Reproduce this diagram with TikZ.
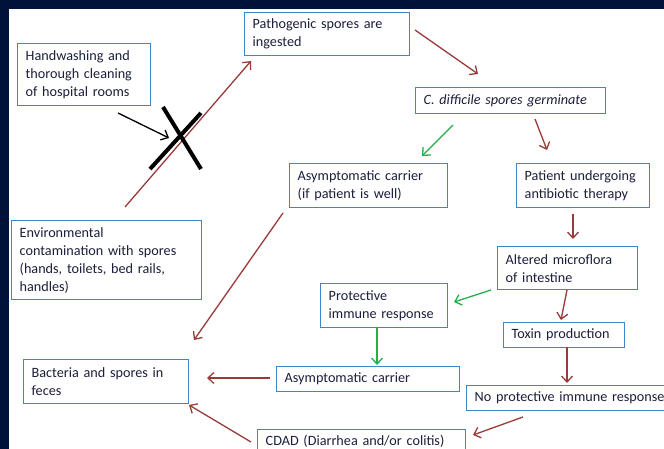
\documentclass[tikz,border=0pt]{standalone}
\usepackage{fontspec}
\setmainfont{Carlito}
\usetikzlibrary{arrows.meta}
\definecolor{navy}{HTML}{00123A}
\definecolor{boxblue}{HTML}{3C87CA}
\definecolor{txt}{HTML}{1C1F3A}
\definecolor{brn}{HTML}{9A3B3B}
\definecolor{grn}{HTML}{22B04B}
\tikzset{
  box/.style={draw=boxblue, line width=1.4pt, fill=white, anchor=north west,
    inner xsep=8pt, inner ysep=0pt, align=left, text=txt,
    font=\fontsize{14.2}{18}\selectfont},
  arr/.style={draw=brn, line width=1.3pt, -{Straight Barb[length=6pt,width=11pt]}},
  garr/.style={arr, draw=grn},
  barr/.style={arr, draw=black},
  cross/.style={draw=black, line width=4pt}
}
\newcommand{\bx}[6]{%
  \pgfmathsetmacro{\bw}{#4-#2}\pgfmathsetmacro{\bh}{#5-#3}\pgfmathsetmacro{\tw}{#4-#2-16}%
  \node[box, minimum width=\bw pt, minimum height=\bh pt, text width=\tw pt] (#1) at (#2,#3) {#6};}
\begin{document}
\begin{tikzpicture}[x=1pt,y=-1pt]
\useasboundingbox (0,0) rectangle (664,449);
\fill[navy] (0,0) rectangle (664,449);
\fill[white] (9,9) rectangle (680,460);
\bx{hand}{17}{43}{150}{105}{Handwashing and\\thorough cleaning\\of hospital rooms}
\bx{path}{244}{12}{409}{55}{Pathogenic spores are\\ingested}
\bx{cdif}{415}{87}{605}{113}{\textit{C. difficile spores germinate}}
\bx{asw}{289}{163}{447}{207}{Asymptomatic carrier\\(if patient is well)}
\bx{pat}{516}{163}{649}{207}{Patient undergoing\\antibiotic therapy}
\bx{env}{11}{220}{201}{299}{Environmental\\contamination with spores\\(hands, toilets, bed rails,\\handles)}
\bx{bac}{23}{359}{188}{403}{Bacteria and spores in\\feces}
\bx{alt}{497}{246}{637}{289}{Altered microflora\\of intestine}
\bx{prot}{320}{283}{447}{327}{Protective\\immune response}
\bx{tox}{503}{322}{624}{347}{Toxin production}
\bx{asy}{276}{366}{459}{391}{Asymptomatic carrier}
\bx{nop}{466}{385}{690}{410}{No protective immune response}
\bx{cdad}{257}{429}{465}{453}{CDAD (Diarrhea and/or colitis)}
% arrow end points
\coordinate (e1s) at (125,207); \coordinate (e1e) at (251,61);
\coordinate (e2s) at (415,30); \coordinate (e2e) at (478,74);
\coordinate (e3s) at (535,119); \coordinate (e3e) at (547,150);
\coordinate (e4s) at (453,125); \coordinate (e4e) at (422,156);
\coordinate (e5s) at (283,213); \coordinate (e5e) at (194,340);
\coordinate (e6s) at (573,214); \coordinate (e6e) at (573,239);
\coordinate (e7s) at (491,290); \coordinate (e7e) at (454,302);
\coordinate (e8s) at (567,290); \coordinate (e8e) at (561,320);
\coordinate (e9s) at (377,327); \coordinate (e9e) at (377,365);
\coordinate (e10s) at (567,347); \coordinate (e10e) at (567,383);
\coordinate (e11s) at (270,378); \coordinate (e11e) at (207,378);
\coordinate (e12s) at (523,417); \coordinate (e12e) at (473,435);
\coordinate (e13s) at (251,442); \coordinate (e13e) at (189,405);
\coordinate (e14s) at (118,113); \coordinate (e14e) at (169,138);
\draw[arr] (e1s) -- (e1e);
\draw[arr] (e2s) -- (e2e);
\draw[arr] (e3s) -- (e3e);
\draw[garr] (e4s) -- (e4e);
\draw[arr] (e5s) -- (e5e);
\draw[arr] (e6s) -- (e6e);
\draw[garr] (e7s) -- (e7e);
\draw[arr] (e8s) -- (e8e);
\draw[garr] (e9s) -- (e9e);
\draw[arr] (e10s) -- (e10e);
\draw[arr] (e11s) -- (e11e);
\draw[arr] (e12s) -- (e12e);
\draw[arr] (e13s) -- (e13e);
\draw[barr] (e14s) -- (e14e);
\draw[cross] (163,107) -- (201,169);
\draw[cross] (150,169) -- (201,113);
\end{tikzpicture}
\end{document}
